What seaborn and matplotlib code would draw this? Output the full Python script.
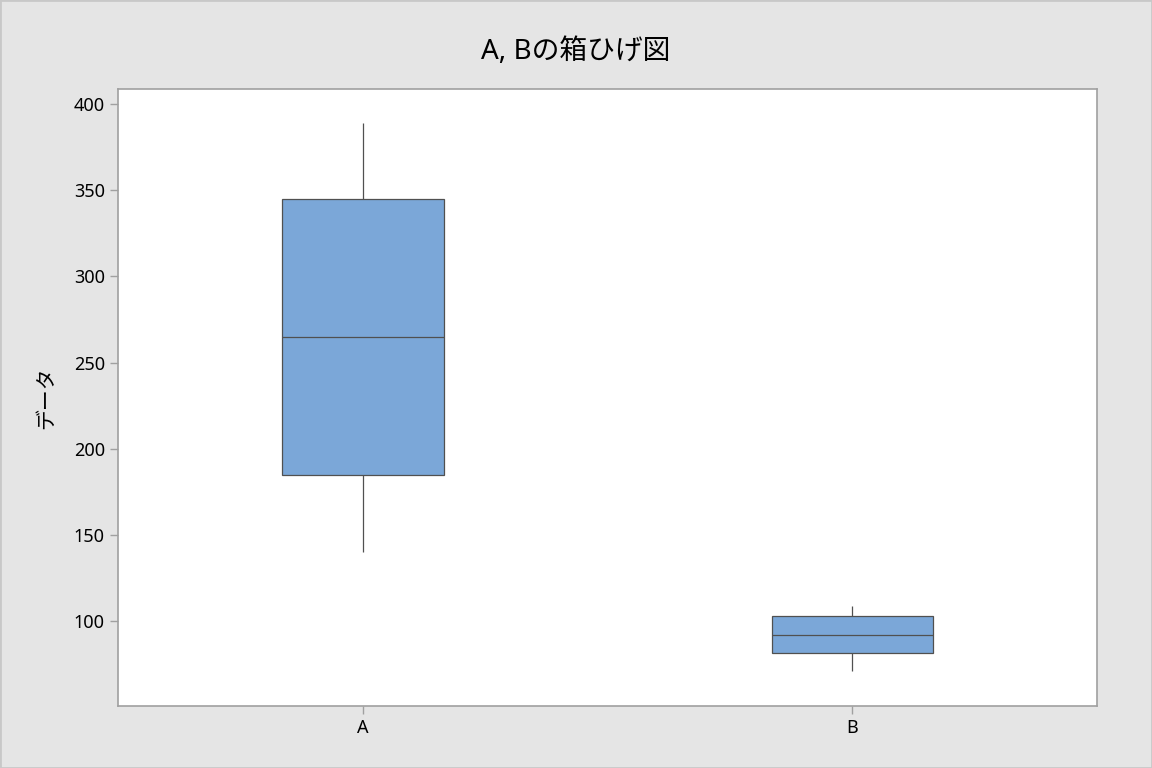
import seaborn as sns
import pandas as pd
import matplotlib.pyplot as plt
from matplotlib.patches import Rectangle

# five-number summaries (min, Q1, median, Q3, max)
groups = ["A", "B"]
a_values = [140, 185, 265, 345, 389]
b_values = [71, 81.4, 92, 103, 109]
y_ticks = [100, 150, 200, 250, 300, 350, 400]

data = pd.DataFrame({
    "group": ["A"] * len(a_values) + ["B"] * len(b_values),
    "value": a_values + b_values,
})

sns.set_style("white")
plt.rcParams['font.family'] = ['Noto Sans', 'Noto Sans CJK JP', 'DejaVu Sans']
plt.rcParams['text.color'] = 'black'
plt.rcParams['axes.labelcolor'] = 'black'

fig = plt.figure(figsize=(11.52, 7.68), dpi=100, facecolor="#E5E5E5")
ax = fig.add_axes([0.1024, 0.0807, 0.85, 0.8034])
fig.patches.append(Rectangle((0, 0), 1, 1, transform=fig.transFigure, fill=False,
                             edgecolor="#C8C8C8", linewidth=2))

sns.boxplot(data=data, x="group", y="value", order=groups, ax=ax, width=0.33,
            color="#7BA7D8", saturation=1, whis=1.5, showcaps=False,
            linecolor="#505050", linewidth=0.9, fliersize=0)

ax.set_xlim(-0.5, 1.5)
ax.set_ylim(50.7, 408.7)
ax.set_yticks(y_ticks)
ax.set_xlabel("")
ax.set_ylabel("データ", fontsize=15, labelpad=12, color="black")
fig.suptitle("A, Bの箱ひげ図", fontsize=20, x=0.5, y=0.932, va="center", color="black")

for s in ax.spines.values():
    s.set_visible(True)
    s.set_color("#A0A0A0")
    s.set_linewidth(1.2)
ax.tick_params(axis="both", which="major", length=6, width=1, color="#A0A0A0",
               labelsize=13, labelcolor="black", direction="out", left=True, bottom=True)

fig.savefig("out.png", dpi=100, facecolor=fig.get_facecolor())
